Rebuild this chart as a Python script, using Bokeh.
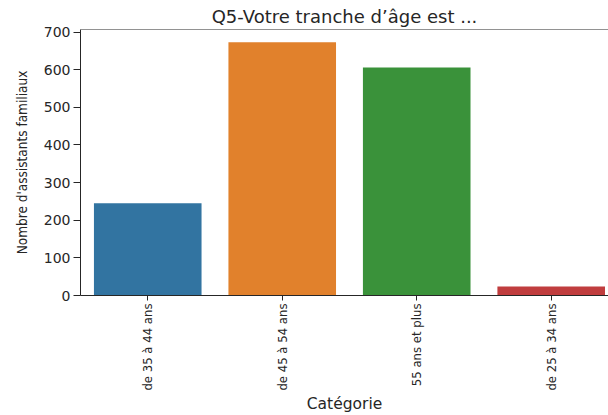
import math
from bokeh.plotting import figure
from bokeh.models import Range1d, FixedTicker, ColumnDataSource, Span
from bokeh.embed import file_html
from bokeh.resources import INLINE

categories = ["de 35 à 44 ans", "de 45 à 54 ans", "55 ans et plus", "de 25 à 34 ans"]
counts = [245, 673, 606, 24]
colors = ["#3274a1", "#e1812c", "#3a923a", "#c03d3e"]
y_ticks = [0, 100, 200, 300, 400, 500, 600, 700]

positions = list(range(len(categories)))
y_max = max(counts) * 1.05

NARROW = "DejaVu Sans Condensed, Liberation Sans Narrow, Roboto Condensed, Roboto"

src = ColumnDataSource(dict(x=positions, top=counts, color=colors))

p = figure(width=608, height=415, output_backend="svg", toolbar_location=None,
           x_range=Range1d(-0.5, 3.426), y_range=Range1d(0, y_max),
           min_border_left=80, min_border_right=0, min_border_top=0, min_border_bottom=120)

p.vbar(x="x", top="top", width=0.8, bottom=0, color="color", line_color=None, source=src)

p.title.text = "Q5-Votre tranche d’âge est ..."
p.title.align = "center"
p.title.text_font = "DejaVu Sans"
p.title.text_font_style = "normal"
p.title.text_font_size = "18px"
p.title.text_color = "#262626"
p.title.standoff = 6

p.outline_line_color = None
p.xgrid.visible = False
p.ygrid.visible = False
p.background_fill_color = "white"
p.border_fill_color = "white"

top_line = Span(location=y_max, dimension="width", line_color="#262626", line_width=1)
p.add_layout(top_line)

xa = p.xaxis[0]
xa.ticker = FixedTicker(ticks=positions)
xa.major_label_overrides = {i: c for i, c in zip(positions, categories)}
xa.major_label_orientation = math.pi / 2
xa.major_label_text_font = NARROW
xa.major_label_text_font_size = "13px"
xa.major_label_text_color = "#262626"
xa.major_label_standoff = 3
xa.major_tick_out = 5
xa.major_tick_in = 0
xa.minor_tick_out = 0
xa.minor_tick_in = 0
xa.axis_line_color = "#262626"
xa.major_tick_line_color = "#262626"
xa.axis_label = "Catégorie"
xa.axis_label_text_font = "DejaVu Sans"
xa.axis_label_text_font_style = "normal"
xa.axis_label_text_font_size = "15.5px"
xa.axis_label_text_color = "#262626"
xa.axis_label_standoff = 1

ya = p.yaxis[0]
ya.ticker = FixedTicker(ticks=y_ticks)
ya.major_label_text_font = "DejaVu Sans"
ya.major_label_text_font_size = "14px"
ya.major_label_text_color = "#262626"
ya.major_label_standoff = 3
ya.major_tick_out = 7
ya.major_tick_in = 0
ya.minor_tick_out = 0
ya.minor_tick_in = 0
ya.axis_line_color = "#262626"
ya.major_tick_line_color = "#262626"
ya.axis_label = "Nombre d'assistants familiaux"
ya.axis_label_text_font = NARROW
ya.axis_label_text_font_style = "normal"
ya.axis_label_text_font_size = "13.5px"
ya.axis_label_text_color = "#262626"
ya.axis_label_standoff = 11

open("out.html", "w").write(file_html(p, INLINE))
